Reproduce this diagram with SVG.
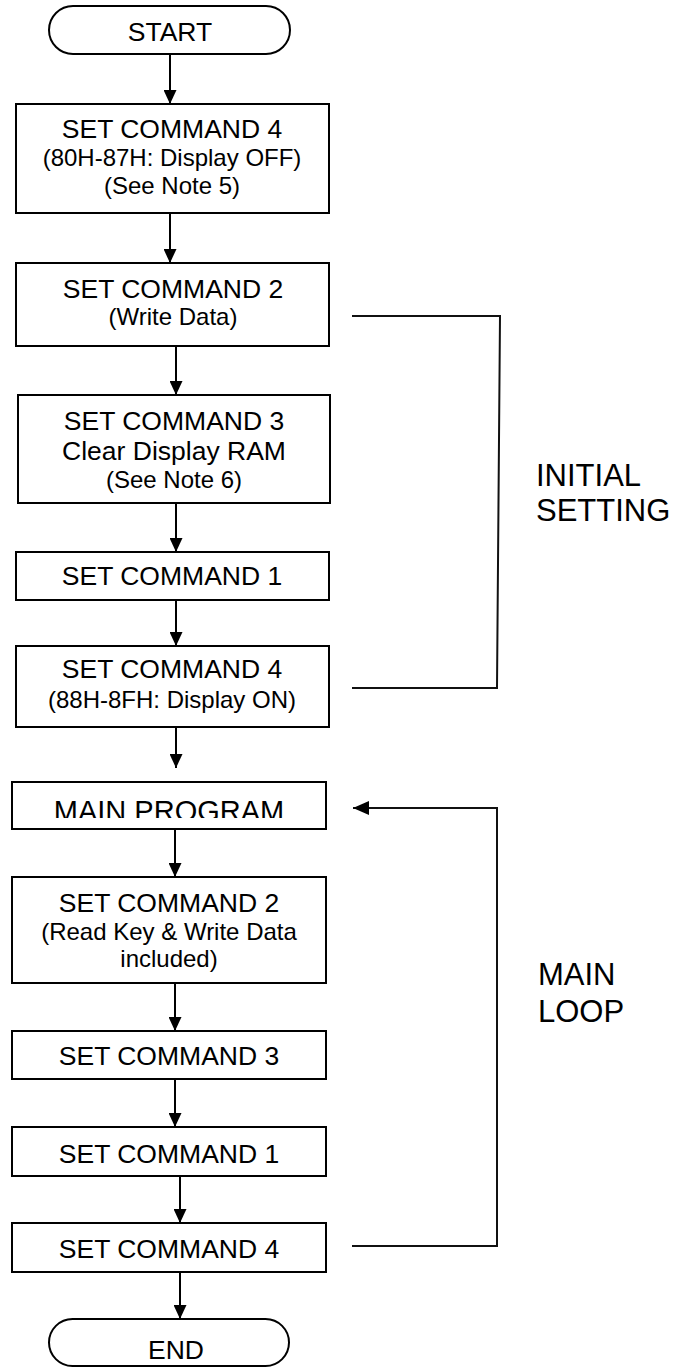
<svg xmlns="http://www.w3.org/2000/svg" width="676" height="1367" viewBox="0 0 676 1367">
  <style>
    .box { fill: #fff; stroke: #000; stroke-width: 2; }
    .t { font-family: "Liberation Sans", Arial, sans-serif; font-size: 26.5px; fill: #000; text-anchor: middle; }
    .s { font-family: "Liberation Sans", Arial, sans-serif; font-size: 24px; fill: #000; text-anchor: middle; }
    .lbl { font-family: "Liberation Sans", Arial, sans-serif; font-size: 31px; fill: #000; }
    .flow { fill: none; stroke: #000; stroke-width: 2; }
    .brk { fill: none; stroke: #111; stroke-width: 2; }
  </style>
  <defs>
    <marker id="arrow" markerUnits="userSpaceOnUse" markerWidth="14" markerHeight="13" refX="14" refY="6.5" orient="auto">
      <path d="M0,0 L14,6.5 L0,13 Z" fill="#000"/>
    </marker>
    <marker id="arrowBig" markerUnits="userSpaceOnUse" markerWidth="16" markerHeight="14" refX="16" refY="7" orient="auto">
      <path d="M0,0 L16,7 L0,14 Z" fill="#000"/>
    </marker>
    <clipPath id="mainClip">
      <rect x="12" y="782" width="314" height="36"/>
    </clipPath>
  </defs>
  <rect width="676" height="1367" fill="#fff"/>

  <!-- flow connectors -->
  <g id="connectors">
    <line class="flow" x1="170" y1="54" x2="170" y2="104" marker-end="url(#arrow)"/>
    <line class="flow" x1="170" y1="213" x2="170" y2="263" marker-end="url(#arrow)"/>
    <line class="flow" x1="176" y1="346" x2="176" y2="395" marker-end="url(#arrow)"/>
    <line class="flow" x1="176" y1="503" x2="176" y2="552" marker-end="url(#arrow)"/>
    <line class="flow" x1="176" y1="600" x2="176" y2="646" marker-end="url(#arrow)"/>
    <line class="flow" x1="176" y1="727" x2="176" y2="768" marker-end="url(#arrow)"/>
    <line class="flow" x1="175" y1="829" x2="175" y2="877" marker-end="url(#arrow)"/>
    <line class="flow" x1="175" y1="983" x2="175" y2="1031" marker-end="url(#arrow)"/>
    <line class="flow" x1="175" y1="1079" x2="175" y2="1127" marker-end="url(#arrow)"/>
    <line class="flow" x1="180" y1="1176" x2="180" y2="1223" marker-end="url(#arrow)"/>
    <line class="flow" x1="180" y1="1272" x2="180" y2="1319" marker-end="url(#arrow)"/>
    <!-- initial setting bracket -->
    <polyline class="brk" points="352,316 500,316 497,688 352,688"/>
    <!-- main loop return -->
    <polyline class="brk" points="352,1246 497,1246 497,808 353,808" marker-end="url(#arrowBig)"/>
  </g>

  <g id="start">
    <rect class="box" x="49" y="6" width="241" height="48" rx="24" ry="24"/>
    <text class="t" x="170" y="41">START</text>
  </g>

  <g id="cmd4-off">
    <rect class="box" x="16" y="104" width="313" height="109"/>
    <text class="t" x="172" y="138">SET COMMAND 4</text>
    <text class="s" x="172" y="166">(80H-87H: Display OFF)</text>
    <text class="s" x="172" y="194">(See Note 5)</text>
  </g>

  <g id="cmd2-write">
    <rect class="box" x="16" y="263" width="313" height="83"/>
    <text class="t" x="173" y="298">SET COMMAND 2</text>
    <text class="s" x="173" y="325">(Write Data)</text>
  </g>

  <g id="cmd3-clear">
    <rect class="box" x="18" y="395" width="312" height="108"/>
    <text class="t" x="174" y="430">SET COMMAND 3</text>
    <text class="t" x="174" y="460">Clear Display RAM</text>
    <text class="s" x="174" y="488">(See Note 6)</text>
  </g>

  <g id="cmd1-init">
    <rect class="box" x="16" y="552" width="313" height="48"/>
    <text class="t" x="172" y="585">SET COMMAND 1</text>
  </g>

  <g id="cmd4-on">
    <rect class="box" x="16" y="646" width="313" height="81"/>
    <text class="t" x="172" y="678">SET COMMAND 4</text>
    <text class="s" x="172" y="708">(88H-8FH: Display ON)</text>
  </g>

  <g id="main-program">
    <rect class="box" x="12" y="782" width="314" height="47"/>
    <text class="t" x="169" y="821" clip-path="url(#mainClip)" style="font-size:29px">MAIN PROGRAM</text>
  </g>

  <g id="cmd2-loop">
    <rect class="box" x="12" y="877" width="314" height="106"/>
    <text class="t" x="169" y="912">SET COMMAND 2</text>
    <text class="s" x="169" y="940">(Read Key &amp; Write Data</text>
    <text class="s" x="169" y="967">included)</text>
  </g>

  <g id="cmd3-loop">
    <rect class="box" x="12" y="1031" width="314" height="48"/>
    <text class="t" x="169" y="1065">SET COMMAND 3</text>
  </g>

  <g id="cmd1-loop">
    <rect class="box" x="12" y="1127" width="314" height="49"/>
    <text class="t" x="169" y="1163">SET COMMAND 1</text>
  </g>

  <g id="cmd4-loop">
    <rect class="box" x="12" y="1223" width="314" height="49"/>
    <text class="t" x="169" y="1258">SET COMMAND 4</text>
  </g>

  <g id="end">
    <rect class="box" x="49" y="1319" width="240" height="47" rx="23.5" ry="23.5"/>
    <text class="t" x="176" y="1359">END</text>
  </g>

  <g id="label-initial">
    <text class="lbl" x="536" y="486">INITIAL</text>
    <text class="lbl" x="536" y="521">SETTING</text>
  </g>

  <g id="label-main">
    <text class="lbl" x="538" y="985">MAIN</text>
    <text class="lbl" x="538" y="1022">LOOP</text>
  </g>
</svg>
